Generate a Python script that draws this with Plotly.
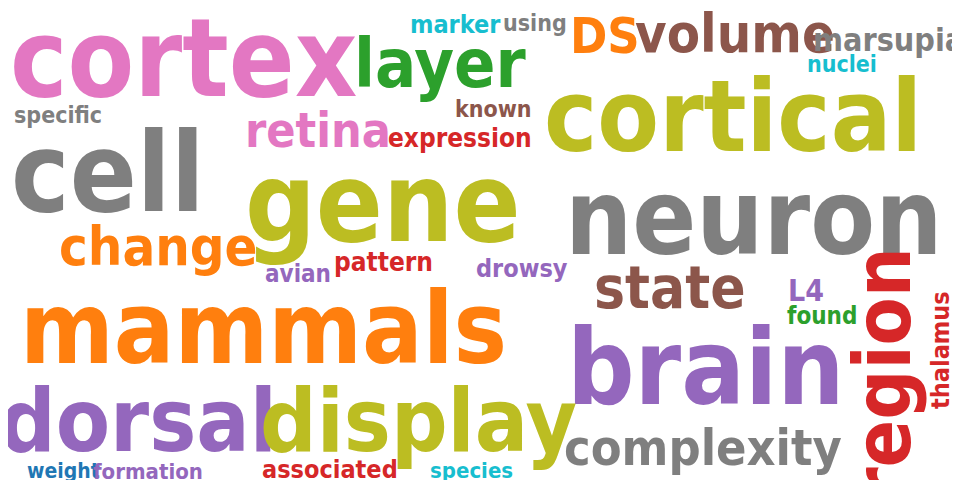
import plotly.graph_objects as go

words = ['cortex', 'cortical', 'neuron', 'cell', 'gene', 'mammals', 'brain', 'dorsal',
         'display', 'region', 'layer', 'volume', 'state', 'change', 'retina', 'complexity',
         'DS', 'marsupial', 'expression', 'known', 'marker', 'using', 'nuclei', 'specific',
         'pattern', 'avian', 'drowsy', 'L4', 'found', 'thalamus', 'weight', 'formation',
         'associated', 'species']
xs = [175, 725, 745, 100, 375, 255, 698, 130, 410, 875, 432, 727, 597 + 65, 150, 310, 695,
      597, 885, 452, 485, 447, 527, 834, 50, 375, 290, 514, 798, 814, 932, 55, 140, 322, 463]
ys = [50, 108, 210, 165, 195, 320, 360, 412, 412, 367, 55, 25, 280, 238, 122, 440,
      28, 32, 130, 101, 16, 15, 56, 107, 254, 266, 260, 282, 308, 342, 463, 463, 461, 462]
sizes = [108, 100, 105, 110, 110, 100, 105, 88, 88, 78, 68, 54, 58, 54, 48, 50,
         50, 32, 26, 23, 25, 23, 23, 23, 26, 24, 25, 30, 24, 25, 21, 22, 25, 22]
angles = [0] * 9 + [-90] + [0] * 19 + [-90] + [0] * 4
colors = ['#e377c2', '#bcbd22', '#7f7f7f', '#7f7f7f', '#bcbd22', '#ff7f0e', '#9467bd', '#9467bd',
          '#bcbd22', '#d62728', '#2ca02c', '#8c564b', '#8c564b', '#ff7f0e', '#e377c2', '#7f7f7f',
          '#ff7f0e', '#7f7f7f', '#d62728', '#8c564b', '#17becf', '#7f7f7f', '#17becf', '#7f7f7f',
          '#d62728', '#9467bd', '#9467bd', '#9467bd', '#2ca02c', '#d62728', '#1f77b4', '#9467bd',
          '#d62728', '#17becf']

fig = go.Figure()
for w, x, y, s, a, c in zip(words, xs, ys, sizes, angles, colors):
    fig.add_annotation(x=x, y=y, text=w, showarrow=False, textangle=a,
                       xanchor='center', yanchor='middle',
                       font=dict(family='DejaVu Sans Condensed, Liberation Sans, sans-serif',
                                 size=s, color=c, weight='bold'))

fig.update_xaxes(range=[0, 960], visible=False)
fig.update_yaxes(range=[480, 0], visible=False)
fig.update_layout(width=960, height=480, margin=dict(l=0, r=0, t=0, b=0),
                  plot_bgcolor='white', paper_bgcolor='white', showlegend=False)
fig.write_html('out.html')
